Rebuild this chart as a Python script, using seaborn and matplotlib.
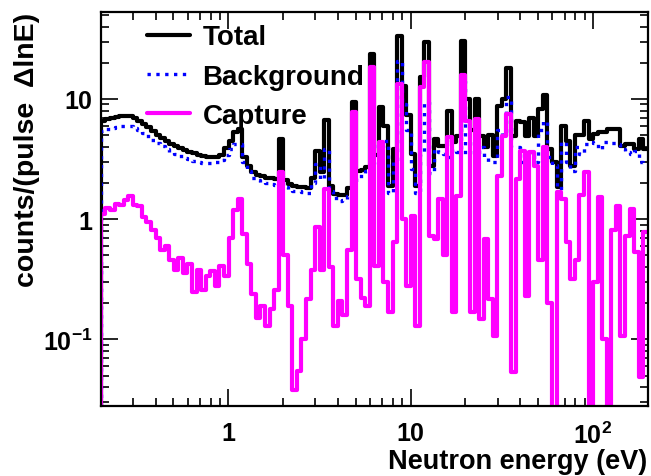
import numpy as np
import pandas as pd
import matplotlib
matplotlib.use('Agg')
import matplotlib.pyplot as plt
from matplotlib.ticker import LogLocator, NullFormatter
import seaborn as sns

sns.set_style('ticks')
plt.rcParams['font.family'] = ['Liberation Sans', 'DejaVu Sans']
plt.rcParams['font.weight'] = 'bold'
plt.rcParams['mathtext.fontset'] = 'custom'
plt.rcParams['mathtext.rm'] = 'Liberation Sans:bold'
plt.rcParams['mathtext.bf'] = 'Liberation Sans:bold'
plt.rcParams['mathtext.default'] = 'rm'
for key in ['text.color', 'axes.labelcolor', 'xtick.color', 'ytick.color', 'axes.edgecolor']:
    plt.rcParams[key] = 'black'

#DATA
#histogram binning, 40 bins per decade from 0.2 to 200 eV, plus one underflow bin
edges = np.geomspace(0.2, 200, 121)
underflowEdge = 0.18
underflowValue = 1e-3

total = [6.6, 6.8, 6.9, 7.05, 7.15, 7.2, 7.15, 6.9, 6.6, 6.2,
         5.8, 5.4, 5.0, 4.7, 4.45, 4.25, 4.05, 3.9, 3.75, 3.62,
         3.52, 3.42, 3.35, 3.28, 3.27, 3.32, 3.45, 3.9, 4.5, 5.3,
         5.6, 3.3, 2.75, 2.45, 2.35, 2.28, 2.22, 2.18, 2.15, 4.64,
         2.1, 1.95, 1.9, 1.87, 1.85, 1.83, 2.2, 3.7, 2.46, 6.7,
         1.9, 1.62, 1.58, 1.6, 1.8, 9.4, 2.5, 2.55, 2.7, 23.5,
         3.4, 8.5, 6.0, 1.9, 3.83, 33.7, 12.9, 7.3, 3.48, 1.9,
         15.1, 29.6, 2.78, 4.64, 4.08, 4.08, 8.0, 4.36, 4.95, 30.6,
         10.0, 5.5, 10.0, 4.95, 4.0, 5.0, 3.37, 8.8, 10.0, 18.1,
         4.95, 6.6, 6.4, 4.95, 7.0, 4.95, 8.25, 10.7, 3.83, 3.0,
         1.85, 6.0, 4.5, 2.78, 5.0, 5.0, 6.6, 4.64, 5.1, 5.3,
         5.3, 5.6, 5.6, 5.6, 4.08, 4.2, 4.2, 3.83, 4.64, 3.83]

background = [5.4, 5.6, 5.75, 5.85, 5.95, 6.0, 5.95, 5.75, 5.5, 5.2,
              4.9, 4.6, 4.3, 4.05, 3.85, 3.65, 3.5, 3.38, 3.25, 3.15,
              3.07, 3.0, 2.95, 2.92, 2.93, 2.98, 3.1, 3.4, 3.85, 4.2,
              4.2, 3.0, 2.5, 2.22, 2.12, 2.05, 2.0, 1.96, 1.92, 2.3,
              1.85, 1.78, 1.72, 1.7, 1.68, 1.65, 2.0, 2.9, 2.15, 3.8,
              1.7, 1.5, 1.42, 1.45, 1.55, 2.0, 2.3, 2.3, 2.5, 4.5,
              2.9, 4.0, 4.5, 1.65, 3.0, 20.5, 9.0, 5.5, 2.6, 1.65,
              3.5, 9.5, 2.4, 3.8, 3.6, 3.5, 3.3, 3.8, 3.6, 14.0,
              3.5, 4.5, 3.5, 4.0, 3.3, 3.0, 3.0, 5.5, 5.0, 10.3,
              4.0, 4.0, 3.0, 3.6, 3.6, 3.0, 5.5, 6.5, 3.3, 2.8,
              1.65, 4.4, 3.0, 2.5, 4.0, 3.5, 4.2, 4.4, 4.3, 3.8,
              4.4, 4.4, 4.3, 4.2, 3.8, 3.6, 3.5, 3.7, 3.0, 2.9]

capture = [1.1, 1.25, 1.2, 1.33, 1.3, 1.45, 1.56, 1.3, 1.28, 1.05,
           0.95, 0.82, 0.7, 0.55, 0.6, 0.46, 0.38, 0.48, 0.36, 0.42,
           0.25, 0.38, 0.26, 0.34, 0.37, 0.28, 0.41, 0.34, 0.7, 1.2,
           1.47, 0.75, 0.42, 0.24, 0.15, 0.19, 0.13, 0.18, 0.26, 2.45,
           0.5, 0.19, 0.038, 0.055, 0.1, 0.215, 0.38, 0.86, 0.38, 1.78,
           0.4, 0.13, 0.21, 0.16, 0.55, 7.75, 0.32, 0.22, 0.19, 18.4,
           0.41, 4.36, 0.3, 0.168, 0.64, 13.3, 1.0, 0.28, 1.06, 0.13,
           12.5, 20.3, 0.73, 0.68, 1.47, 0.5, 4.8, 0.17, 1.56, 15.7,
           6.6, 0.168, 6.8, 0.147, 0.68, 0.215, 0.106, 2.3, 4.95, 7.5,
           0.054, 2.15, 3.7, 0.23, 3.6, 2.78, 0.46, 3.96, 0.2, 0.01,
           1.67, 1.47, 0.64, 0.32, 0.46, 1.6, 2.45, 0.01, 0.3, 1.53,
           0.1, 0.01, 0.82, 1.29, 0.106, 0.73, 1.21, 0.53, 0.049, 0.78]

#turns bin contents into a step table (left edges + closing point)
def stepTable(vals):
    x = np.concatenate([[underflowEdge], edges])
    y = np.concatenate([[underflowValue], vals, [vals[-1]]])
    return pd.DataFrame({'energy': x, 'counts': y})

fig = plt.figure(figsize=(6.51, 4.77), dpi=100)
ax = fig.add_axes([0.155, 0.147, 0.84, 0.826])

sns.lineplot(data=stepTable(total), x='energy', y='counts', drawstyle='steps-post',
             color='black', lw=3.0, estimator=None, sort=False, ax=ax, label='Total')
sns.lineplot(data=stepTable(background), x='energy', y='counts', drawstyle='steps-post',
             color='#0000ff', lw=2.4, ls=':', estimator=None, sort=False, ax=ax, label='Background')
sns.lineplot(data=stepTable(capture), x='energy', y='counts', drawstyle='steps-post',
             color='#ff00ff', lw=3.0, estimator=None, sort=False, ax=ax, label='Capture')

ax.set_xscale('log')
ax.set_yscale('log')
ax.set_xlim(0.2, 200)
ax.set_ylim(0.028, 53)

ax.set_xticks([1, 10, 100])
ax.set_xticklabels(['1', '10', '$10^{2}$'])
ax.set_yticks([0.1, 1, 10])
ax.set_yticklabels(['$10^{-1}$', '1', '10'])
ax.xaxis.set_minor_locator(LogLocator(base=10, subs=np.arange(2, 10)))
ax.yaxis.set_minor_locator(LogLocator(base=10, subs=np.arange(2, 10)))
ax.xaxis.set_minor_formatter(NullFormatter())
ax.yaxis.set_minor_formatter(NullFormatter())
ax.tick_params(which='both', direction='in', top=True, right=True, width=1.2, labelsize=18)
ax.tick_params(which='major', length=12)
ax.tick_params(which='minor', length=6)
ax.tick_params(axis='x', pad=11)
ax.tick_params(axis='y', pad=6)
for s in ax.spines.values():
    s.set_linewidth(1.6)

ax.set_xlabel('Neutron energy (eV)', fontsize=19.5, fontweight='bold', loc='right', labelpad=0)
ax.set_ylabel('counts/(pulse  \u0394lnE)', fontsize=20.5, fontweight='bold', loc='top', labelpad=2)

ax.legend(loc='upper left', bbox_to_anchor=(0.084, 0.968), frameon=False,
          handlelength=1.55, handletextpad=0.45, labelspacing=0.47, borderpad=0, borderaxespad=0,
          prop={'weight': 'bold', 'size': 20})

fig.savefig('out.png', dpi=100)
